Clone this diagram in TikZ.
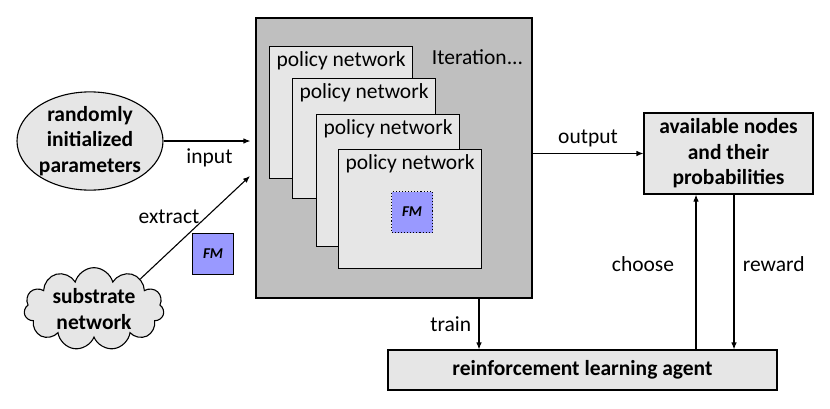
\documentclass[tikz,border=0pt]{standalone}
\usepackage{fontspec}
\setmainfont{Carlito}
\usetikzlibrary{arrows.meta,positioning,shapes.geometric,shapes.symbols}

\definecolor{biggray}{HTML}{BFBFBF}
\definecolor{lightgray}{HTML}{E6E6E6}
\definecolor{fmblue}{HTML}{9999FF}

\begin{document}
\begin{tikzpicture}[x=1pt, y=-1pt, >={Latex[length=7pt,width=5.5pt]}, line width=1.1pt,
    every node/.style={font=\fontsize{21.5}{25}\selectfont},
    pnet/.style={draw, fill=lightgray, minimum width=143pt, minimum height=120pt, anchor=north west,
        label={[anchor=north, inner sep=5pt]north:policy network}},
    fmbox/.style={draw, fill=fmblue, minimum width=41pt, minimum height=41pt, inner sep=0pt,
        font=\fontsize{15}{18}\selectfont\bfseries\itshape},
    graybox/.style={draw, fill=lightgray, align=center, inner sep=0pt,
        font=\fontsize{21.5}{25.5}\selectfont\bfseries}]
    \useasboundingbox (0,0) rectangle (830,408);

    % Iterated policy networks
    \node[draw, fill=biggray, minimum width=276pt, minimum height=280pt] (big) at (394,158) {};
    \node[anchor=west] (iter) at (428,57) {Iteration...};
    \node[pnet, minimum height=132pt] (pn1) at (269,46) {};
    \node[pnet] (pn2) at (292,78) {};
    \node[pnet, minimum height=132pt] (pn3) at (316,114) {};
    \node[pnet, minimum height=119pt] (pn4) at (338,149) {};
    \node[fmbox, dotted] (fmin) at (412,212) {FM};

    % Inputs
    \node[ellipse, graybox, minimum width=146pt, minimum height=94pt] (rand) at (90,141)
        {randomly\\initialized\\parameters};
    \node[cloud, cloud puffs=11, aspect=2.2, graybox, minimum width=140pt, minimum height=64pt] (sub)
        at (94,309) {substrate\\network};
    \node[fmbox] (fmout) at (213,254) {FM};

    % Outputs
    \node[graybox, minimum width=169pt, minimum height=81pt] (avail) at (728.5,153.5)
        {available nodes\\and their\\probabilities};
    \node[graybox, minimum width=389pt, minimum height=40pt] (agent) at (582.5,370)
        {reinforcement learning agent};

    % Arrows
    \coordinate (extin) at (250,176);
    \draw[->, shorten >=5pt] (rand.east) -- node[below=4pt] {input} (rand.east -| big.west);
    \draw[->] (sub.33) -- node[pos=0.6, left=3pt] {extract} (extin);
    \draw[->] (big.east |- avail.west) -- node[above=3pt] {output} (avail.west);
    \draw[->] ([xshift=85pt]big.south) -- node[left=4pt] {train} ([xshift=85pt]big.south |- agent.north);
    \draw[->] ([xshift=-32.5pt]avail.south |- agent.north) -- node[pos=0.55, left=18pt] {choose} ([xshift=-32.5pt]avail.south);
    \draw[->] ([xshift=5.5pt]avail.south) -- node[pos=0.45, right=5pt] {reward} ([xshift=5.5pt]avail.south |- agent.north);
\end{tikzpicture}
\end{document}
